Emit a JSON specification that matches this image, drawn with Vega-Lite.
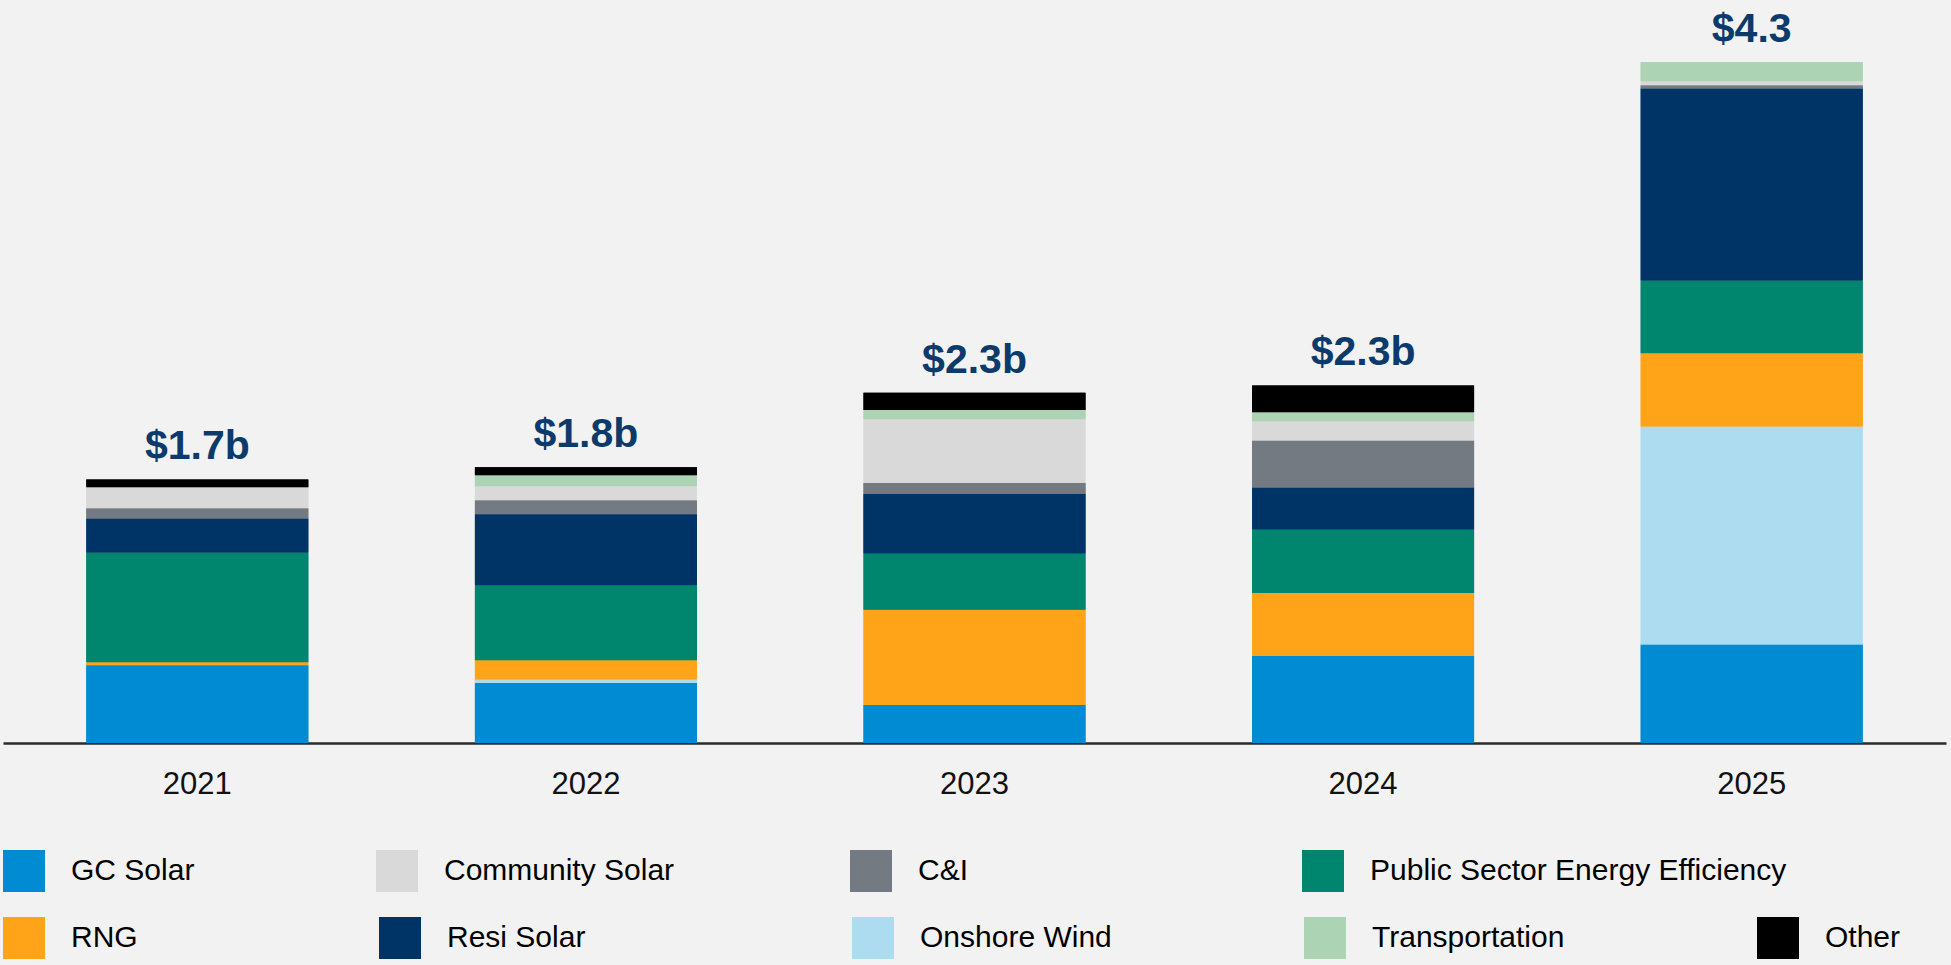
{
  "$schema": "https://vega.github.io/schema/vega-lite/v6.json",
  "width": 1943,
  "height": 743,
  "autosize": {"type": "none"},
  "padding": {"left": 3, "top": 0, "right": 5, "bottom": 222},
  "background": "#f2f2f2",
  "config": {"view": {"stroke": null}, "font": "Liberation Sans"},
  "datasets": {
    "totals": [
      {"year": "2021", "label": "$1.7b"},
      {"year": "2022", "label": "$1.8b"},
      {"year": "2023", "label": "$2.3b"},
      {"year": "2024", "label": "$2.3b"},
      {"year": "2025", "label": "$4.3"}
    ],
    "cats": [
      {"cat": "GC Solar", "rank": 1},
      {"cat": "Onshore Wind", "rank": 2},
      {"cat": "RNG", "rank": 3},
      {"cat": "Public Sector Energy Efficiency", "rank": 4},
      {"cat": "Resi Solar", "rank": 5},
      {"cat": "C&I", "rank": 6},
      {"cat": "Community Solar", "rank": 7},
      {"cat": "Transportation", "rank": 8},
      {"cat": "Other", "rank": 9}
    ]
  },
  "data": {
    "values": [
      {"year": "2021", "cat": "GC Solar", "value": 0.502},
      {"year": "2021", "cat": "RNG", "value": 0.019},
      {"year": "2021", "cat": "Public Sector Energy Efficiency", "value": 0.709},
      {"year": "2021", "cat": "Resi Solar", "value": 0.220},
      {"year": "2021", "cat": "C&I", "value": 0.067},
      {"year": "2021", "cat": "Community Solar", "value": 0.136},
      {"year": "2021", "cat": "Other", "value": 0.050},
      {"year": "2022", "cat": "GC Solar", "value": 0.388},
      {"year": "2022", "cat": "Onshore Wind", "value": 0.022},
      {"year": "2022", "cat": "RNG", "value": 0.125},
      {"year": "2022", "cat": "Public Sector Energy Efficiency", "value": 0.484},
      {"year": "2022", "cat": "Resi Solar", "value": 0.459},
      {"year": "2022", "cat": "C&I", "value": 0.090},
      {"year": "2022", "cat": "Community Solar", "value": 0.090},
      {"year": "2022", "cat": "Transportation", "value": 0.071},
      {"year": "2022", "cat": "Other", "value": 0.052},
      {"year": "2023", "cat": "GC Solar", "value": 0.245},
      {"year": "2023", "cat": "RNG", "value": 0.616},
      {"year": "2023", "cat": "Public Sector Energy Efficiency", "value": 0.364},
      {"year": "2023", "cat": "Resi Solar", "value": 0.386},
      {"year": "2023", "cat": "C&I", "value": 0.069},
      {"year": "2023", "cat": "Community Solar", "value": 0.411},
      {"year": "2023", "cat": "Transportation", "value": 0.060},
      {"year": "2023", "cat": "Other", "value": 0.112},
      {"year": "2024", "cat": "GC Solar", "value": 0.562},
      {"year": "2024", "cat": "RNG", "value": 0.407},
      {"year": "2024", "cat": "Public Sector Energy Efficiency", "value": 0.411},
      {"year": "2024", "cat": "Resi Solar", "value": 0.271},
      {"year": "2024", "cat": "C&I", "value": 0.304},
      {"year": "2024", "cat": "Community Solar", "value": 0.123},
      {"year": "2024", "cat": "Transportation", "value": 0.058},
      {"year": "2024", "cat": "Other", "value": 0.174},
      {"year": "2025", "cat": "GC Solar", "value": 0.636},
      {"year": "2025", "cat": "Onshore Wind", "value": 1.409},
      {"year": "2025", "cat": "RNG", "value": 0.473},
      {"year": "2025", "cat": "Public Sector Energy Efficiency", "value": 0.470},
      {"year": "2025", "cat": "Resi Solar", "value": 1.240},
      {"year": "2025", "cat": "C&I", "value": 0.021},
      {"year": "2025", "cat": "Community Solar", "value": 0.026},
      {"year": "2025", "cat": "Transportation", "value": 0.125}
    ]
  },
  "transform": [
    {"lookup": "cat", "from": {"data": {"name": "cats"}, "key": "cat", "fields": ["rank"]}}
  ],
  "encoding": {
    "x": {
      "field": "year",
      "type": "ordinal",
      "scale": {"paddingInner": 0.4287, "paddingOuter": 0.2144},
      "axis": {
        "title": null,
        "labelAngle": 0,
        "domainColor": "#2b2b2b",
        "domainWidth": 2.5,
        "ticks": false,
        "tickSize": 0,
        "grid": false,
        "labelFont": "Liberation Sans",
        "labelFontSize": 31,
        "labelColor": "#111111",
        "labelBaseline": "alphabetic",
        "labelPadding": 50
      }
    }
  },
  "layer": [
    {
      "mark": {"type": "bar"},
      "encoding": {
        "y": {"field": "value", "type": "quantitative", "stack": "zero", "scale": {"domain": [0, 4.8]}, "axis": null},
        "order": {"field": "rank", "type": "quantitative", "sort": "ascending"},
        "color": {
          "field": "cat",
          "type": "nominal",
          "scale": {
            "domain": ["GC Solar", "Community Solar", "C&I", "Public Sector Energy Efficiency", "RNG", "Resi Solar", "Onshore Wind", "Transportation", "Other"],
            "range": ["#008bd2", "#d9d9d9", "#737a82", "#00856f", "#ffa418", "#003366", "#addcf0", "#acd3b4", "#000000"]
          },
          "legend": {
            "orient": "none",
            "legendX": 0,
            "legendY": 850,
            "direction": "horizontal",
            "columns": 4,
            "title": null,
            "values": ["GC Solar", "Community Solar", "C&I", "Public Sector Energy Efficiency"],
            "symbolType": "square",
            "symbolSize": 1764,
            "symbolStrokeWidth": 0,
            "symbolOpacity": 1,
            "labelFont": "Liberation Sans",
            "labelFontSize": 30,
            "labelColor": "#000000",
            "labelOffset": 26,
            "labelLimit": 800,
            "columnPadding": 0,
            "padding": 0,
            "encode": {
              "symbols": {"update": {"shape": {"signal": "datum.index === 0 ? 'M-1,-1H1V1H-1Z M16.76,0' : datum.index === 1 ? 'M-1,-1H1V1H-1Z M21.57,0' : datum.index === 2 ? 'M-1,-1H1V1H-1Z M20.48,0' : 'M-1,-1H1V1H-1Z'"}}}
            }
          }
        }
      }
    },
    {
      "mark": {"type": "bar"},
      "encoding": {
        "y": {"field": "value", "type": "quantitative", "stack": "zero", "scale": {"domain": [0, 4.8]}, "axis": null},
        "order": {"field": "rank", "type": "quantitative", "sort": "ascending"},
        "fill": {
          "field": "cat",
          "type": "nominal",
          "scale": {
            "domain": ["RNG", "Resi Solar", "Onshore Wind", "Transportation", "Other", "GC Solar", "Community Solar", "C&I", "Public Sector Energy Efficiency"],
            "range": ["#ffa418", "#003366", "#addcf0", "#acd3b4", "#000000", "#008bd2", "#d9d9d9", "#737a82", "#00856f"]
          },
          "legend": {
            "orient": "none",
            "legendX": 0,
            "legendY": 917,
            "direction": "horizontal",
            "columns": 5,
            "title": null,
            "values": ["RNG", "Resi Solar", "Onshore Wind", "Transportation", "Other"],
            "symbolType": "square",
            "symbolSize": 1764,
            "symbolStrokeWidth": 0,
            "symbolOpacity": 1,
            "labelFont": "Liberation Sans",
            "labelFontSize": 30,
            "labelColor": "#000000",
            "labelOffset": 26,
            "labelLimit": 800,
            "columnPadding": 0,
            "padding": 0,
            "encode": {
              "symbols": {"update": {"shape": {"signal": "datum.index === 0 ? 'M-1,-1H1V1H-1Z M16.86,0' : datum.index === 1 ? 'M-1,-1H1V1H-1Z M21.48,0' : datum.index === 2 ? 'M-1,-1H1V1H-1Z M20.48,0' : datum.index === 3 ? 'M-1,-1H1V1H-1Z M20.57,0' : 'M-1,-1H1V1H-1Z'"}}}
            }
          }
        }
      }
    },
    {
      "transform": [
        {"aggregate": [{"op": "sum", "field": "value", "as": "total"}], "groupby": ["year"]},
        {"lookup": "year", "from": {"data": {"name": "totals"}, "key": "year", "fields": ["label"]}}
      ],
      "mark": {
        "type": "text",
        "font": "Liberation Sans",
        "fontSize": 41,
        "fontWeight": "bold",
        "color": "#0b3a6b",
        "baseline": "alphabetic",
        "align": "center",
        "dy": -20
      },
      "encoding": {
        "y": {"field": "total", "type": "quantitative", "scale": {"domain": [0, 4.8]}, "axis": null},
        "text": {"field": "label", "type": "nominal"}
      }
    }
  ]
}
